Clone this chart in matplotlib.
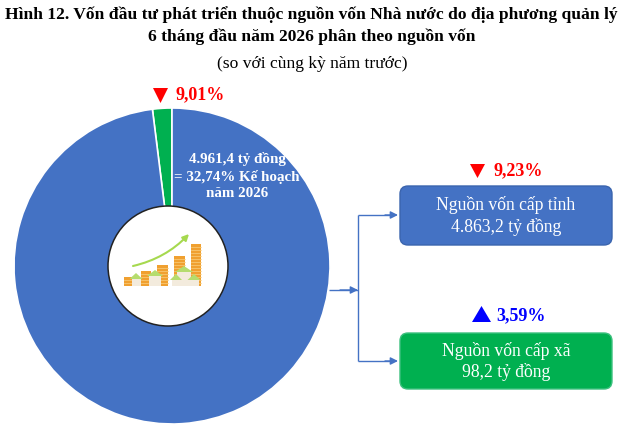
import matplotlib
matplotlib.use("Agg")
import matplotlib.pyplot as plt
from matplotlib.patches import Circle, FancyBboxPatch, Polygon, FancyArrowPatch, Rectangle

plt.rcParams['font.family'] = ['Liberation Serif', 'DejaVu Serif']

W, H = 623, 441
BLUE = '#4472C4'
GREEN = '#00B050'

sources = ['Nguồn vốn cấp tỉnh', 'Nguồn vốn cấp xã']
values = [4863.2, 98.2]
value_labels = ['4.863,2 tỷ đồng', '98,2 tỷ đồng']
changes = ['9,23%', '3,59%']
total_change = '9,01%'
total_label = '4.961,4 tỷ đồng\n= 32,74% Kế hoạch\nnăm 2026'
# coin stacks in the little icon, heights in px
icon_heights = [9, 15, 21, 30, 42]
title = ('Hình 12. Vốn đầu tư phát triển thuộc nguồn vốn Nhà nước do địa phương quản lý\n'
         '6 tháng đầu năm 2026 phân theo nguồn vốn')
subtitle = '(so với cùng kỳ năm trước)'


def y(p):
    return H - p


def triangle(ax, x0, x1, top, bottom, up, color):
    mid = (x0 + x1) / 2
    if up:
        pts = [(x0, y(bottom)), (x1, y(bottom)), (mid, y(top))]
    else:
        pts = [(x0, y(top)), (x1, y(top)), (mid, y(bottom))]
    ax.add_patch(Polygon(pts, closed=True, fc=color, ec='none', zorder=5))


def house(ax, cx, base, w, h):
    ax.add_patch(Rectangle((cx - w / 2, y(base)), w, h, fc='#F3EBDD', ec='none', zorder=6))
    ax.add_patch(Polygon([(cx - w / 2 - 2, y(base - h)), (cx + w / 2 + 2, y(base - h)), (cx, y(base - h - 6))],
                         closed=True, fc='#B5DC6E', ec='none', zorder=6))


fig = plt.figure(figsize=(W / 100, H / 100), dpi=100)
ax = fig.add_axes([0, 0, 1, 1])

# donut
ax.pie(values[::-1], colors=[GREEN, BLUE], startangle=90, counterclock=True,
       center=(172, y(266)), radius=158, frame=True,
       wedgeprops=dict(edgecolor='white', linewidth=1.2))
ax.set_xlim(0, W)
ax.set_ylim(0, H)
ax.set_aspect('equal')
ax.axis('off')
ax.add_patch(Circle((168, y(266)), 60, fc='white', ec='#222222', lw=1.1, zorder=3))

# icon in the hole
for i, h in enumerate(icon_heights):
    x0 = 124 + i * 16.7
    ax.bar(x0 + 5.3, h, width=10.5, bottom=y(286), color='#F0A030', zorder=4)
    for k in range(1, h // 3):
        ax.plot([x0, x0 + 10.5], [y(286) + k * 3, y(286) + k * 3], color='#F9CF7E', lw=0.5, zorder=4)
house(ax, 136, 286, 9, 7)
house(ax, 155, 286, 12, 10)
house(ax, 184, 286, 14, 14)
house(ax, 176, 286, 8, 6)
house(ax, 194, 286, 9, 6)
ax.add_patch(FancyArrowPatch((133, y(266)), (189, y(234)), connectionstyle='arc3,rad=0.15',
                             arrowstyle='-|>', mutation_scale=9, color='#A6D94F', lw=1.5, shrinkA=0, shrinkB=0, zorder=5))

# texts
ax.text(311.5, y(6), title, ha='center', va='top', fontsize=12.6, fontweight='bold',
        color='black', linespacing=1.42)
ax.text(312, y(64), subtitle, ha='center', va='center', fontsize=12.6, color='black')

triangle(ax, 153, 168, 88, 103, False, '#FF0000')
ax.text(176, y(95), total_change, ha='left', va='center', fontsize=13, fontweight='bold', color='#FF0000')
ax.text(237, y(176), total_label, ha='center', va='center', fontsize=10.8, fontweight='bold',
        color='white', linespacing=1.3, zorder=6)

# connectors
line = dict(color=BLUE, lw=1, zorder=2, solid_capstyle='butt')
ax.plot([329, 358], [y(290), y(290)], **line)
ax.plot([358, 358], [y(215), y(361)], **line)
ax.plot([358, 392], [y(215), y(215)], **line)
ax.plot([358, 392], [y(361), y(361)], **line)
for x_from, x_to, py in [(340, 358, 290), (385, 398, 215), (385, 398, 361)]:
    ax.add_patch(FancyArrowPatch((x_from, y(py)), (x_to, y(py)), arrowstyle='-|>', mutation_scale=11,
                                 color=BLUE, lw=1, shrinkA=0, shrinkB=0, zorder=2))

# boxes
tops = [186, 333]
bottoms = [245, 389]
colors = [BLUE, GREEN]
edges = ['#3A64AE', '#3CC07E']
for i in range(2):
    ax.add_patch(FancyBboxPatch((400, y(bottoms[i])), 212, bottoms[i] - tops[i],
                                boxstyle='round,pad=0,rounding_size=8',
                                fc=colors[i], ec=edges[i], lw=1, zorder=3))
    ax.text(506, y((tops[i] + bottoms[i]) / 2 + 0.5), sources[i] + '\n' + value_labels[i], ha='center', va='center',
            fontsize=12.7, color='white', linespacing=1.28, zorder=6)

triangle(ax, 470, 485, 164, 178, False, '#FF0000')
ax.text(494, y(171), changes[0], ha='left', va='center', fontsize=13, fontweight='bold', color='#FF0000')
triangle(ax, 472, 491, 306, 322, True, '#0000FF')
ax.text(496, y(316), changes[1], ha='left', va='center', fontsize=13, fontweight='bold', color='#0000FF')

fig.savefig('out.png', dpi=100)
